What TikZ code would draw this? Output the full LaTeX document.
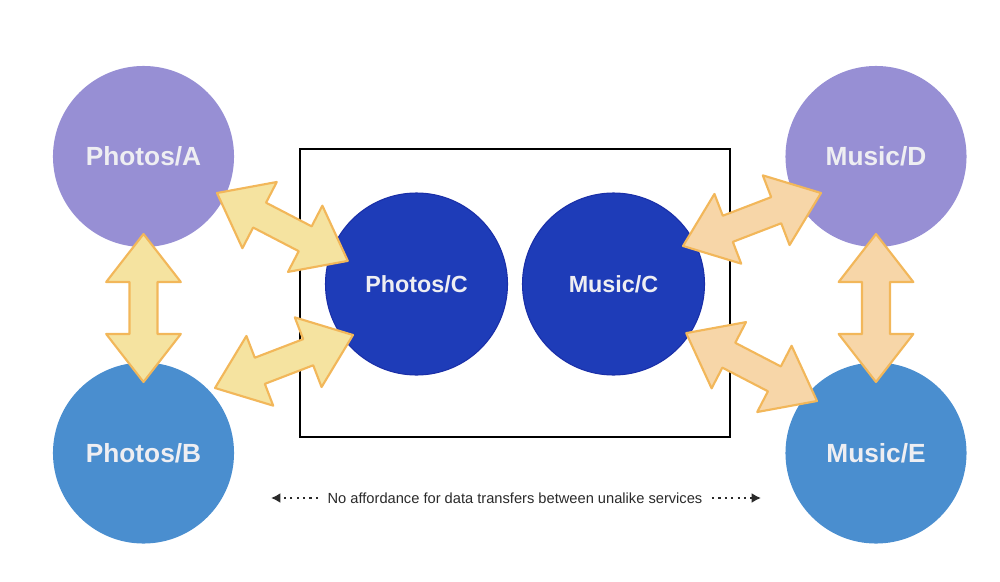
\documentclass[tikz,border=0pt]{standalone}
\usepackage{fontspec}
\setmainfont{Liberation Sans}
\usetikzlibrary{arrows.meta,calc}
\definecolor{purp}{HTML}{978FD4}
\definecolor{lblue}{HTML}{4A8ECF}
\definecolor{dblue}{HTML}{1E3CB8}
\definecolor{dbord}{HTML}{1A2FA8}
\definecolor{yfill}{HTML}{F5E3A0}
\definecolor{pfill}{HTML}{F7D6A8}
\definecolor{aedge}{HTML}{F2B75A}
\definecolor{lbl}{HTML}{EEEEF2}
\definecolor{txtc}{HTML}{2A2A2A}

\newcommand\dblarrow[3]{%
  \path let \p1=(#2), \p2=(#3) in \pgfextra{%
    \pgfmathsetmacro\myang{atan2(\y2-\y1,\x2-\x1)}%
    \pgfmathsetmacro\mylen{veclen(\x2-\x1,\y2-\y1)}%
    \global\let\gang\myang \global\let\glen\mylen};
  \begin{scope}[shift={(#2)},rotate=\gang]
    \draw[#1] (0pt,0pt) -- (36pt,28pt) -- (36pt,10.5pt) -- (\glen pt-36pt,10.5pt)
      -- (\glen pt-36pt,28pt) -- (\glen pt,0pt) -- (\glen pt-36pt,-28pt)
      -- (\glen pt-36pt,-10.5pt) -- (36pt,-10.5pt) -- (36pt,-28pt) -- cycle;
  \end{scope}}

\begin{document}
\begin{tikzpicture}[x=0.75pt,y=-0.75pt,
  circ/.style={circle, inner sep=0pt, text=lbl, font=\bfseries},
  bigc/.style={circ, minimum size=135.8pt, font=\fontsize{19.7pt}{22pt}\selectfont\bfseries},
  midc/.style={circ, minimum size=136.5pt, fill=dblue, draw=dbord, line width=0.8pt,
     font=\fontsize{17.5pt}{20pt}\selectfont\bfseries},
  yarrow/.style={fill=yfill, draw=aedge, line width=1.6pt, line join=round},
  parrow/.style={fill=pfill, draw=aedge, line width=1.6pt, line join=round},
  dotarrow/.style={line width=1.6pt, dash pattern=on 1.6pt off 3.2pt, txtc,
     -{Latex[length=7pt,width=7.5pt]}},
]
\useasboundingbox (0,0) rectangle (1000,582);

% frame
\node[draw=black, line width=1.5pt, minimum width=322.5pt, minimum height=216pt, inner sep=0pt]
  (frame) at (514.5,293) {};

% circles
\node[bigc, fill=purp] (A) at (143.5,156.5) {Photos/A};
\node[bigc, fill=lblue] (B) at (143.5,453) {Photos/B};
\node[midc] (PC) at (416.5,284) {Photos/C};
\node[midc] (MC) at (613.5,284) {Music/C};
\node[bigc, fill=purp] (D) at (876,156.5) {Music/D};
\node[bigc, fill=lblue] (E) at (876,453) {Music/E};

% arrow tips
\coordinate (ab1) at (143.5,234);
\coordinate (ab2) at (143.5,382);
\coordinate (ac1) at (217,193);
\coordinate (ac2) at (348,261);
\coordinate (bc1) at (215,388);
\coordinate (bc2) at (353,335);
\coordinate (dm1) at (821,193);
\coordinate (dm2) at (683,246);
\coordinate (em1) at (817,401);
\coordinate (em2) at (686,333);
\coordinate (de1) at (876,234);
\coordinate (de2) at (876,382);

\dblarrow{yarrow}{ab1}{ab2}
\dblarrow{yarrow}{ac1}{ac2}
\dblarrow{yarrow}{bc1}{bc2}
\dblarrow{parrow}{dm1}{dm2}
\dblarrow{parrow}{em1}{em2}
\dblarrow{parrow}{de1}{de2}

% note
\node[text=txtc, font=\fontsize{11pt}{13pt}\selectfont, inner sep=0pt] (note) at (515,498)
  {No affordance for data transfers between unalike services};
\coordinate (nl) at (271,498);
\coordinate (nr) at (761,498);
\draw[dotarrow] ([xshift=-7pt]note.west) -- (nl);
\draw[dotarrow] ([xshift=7pt]note.east) -- (nr);
\end{tikzpicture}
\end{document}
